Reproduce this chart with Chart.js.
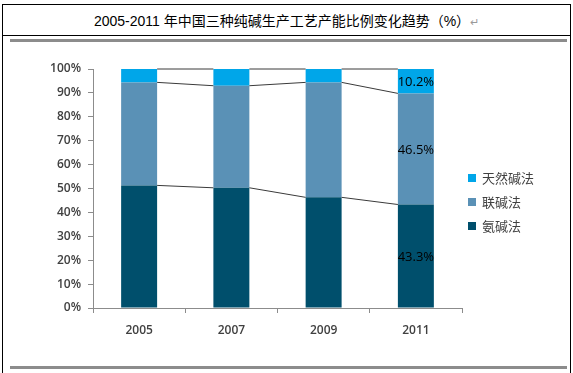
<!DOCTYPE html>
<html><head><meta charset="utf-8">
<script src="https://cdn.jsdelivr.net/npm/chart.js@4/dist/chart.umd.min.js"></script>
<style>
html,body{margin:0;padding:0;background:#fff;width:573px;height:373px;overflow:hidden;position:relative;}
.ln{position:absolute;background:#000;}
.gray{position:absolute;background:#8c8c8c;}
#title{position:absolute;left:0;width:573px;top:12px;text-align:center;font-size:14px;line-height:18px;color:#000;font-family:"Liberation Sans","Noto Sans CJK SC",sans-serif;white-space:nowrap;}
#title .ret{color:#999;font-size:11px;}
#chartWrap{position:absolute;left:0;top:42px;width:573px;height:323px;}
#legend{position:absolute;left:468px;top:168px;font-family:"Noto Sans CJK SC",sans-serif;font-size:13px;color:#404040;}
#legend .it{position:relative;height:24px;line-height:20px;padding-left:14px;white-space:nowrap;}
#legend .sw{position:absolute;left:0;top:6px;width:8px;height:8px;}
</style></head>
<body>
<div class="ln" style="left:2px;top:4px;width:569px;height:1px"></div>
<div class="ln" style="left:2px;top:35px;width:569px;height:1px"></div>
<div class="ln" style="left:2px;top:4px;width:1px;height:369px"></div>
<div class="ln" style="left:570px;top:4px;width:1px;height:369px"></div>
<div class="gray" style="left:10px;top:39px;width:557px;height:3px"></div>
<div class="gray" style="left:10px;top:366px;width:557px;height:3px"></div>
<div id="title">2005-2011 年中国三种纯碱生产工艺产能比例变化趋势（%）<span class="ret">↵</span></div>
<div id="chartWrap"><canvas id="c" width="573" height="323"></canvas></div>
<div id="legend"></div>
<script>
// ---- data ----
const years = ['2005', '2007', '2009', '2011'];
const ammonia = [51.3, 50.3, 46.3, 43.3];   // 氨碱法
const joint   = [43.1, 42.7, 48.1, 46.5];   // 联碱法
const natural = [5.6, 7.0, 5.6, 10.2];      // 天然碱法
const seriesNames = ['氨碱法', '联碱法', '天然碱法'];
const labeledYear = '2011';
const yTickStep = 10;
const yMax = 100;

const colors = ['#004f6c', '#5a91b6', '#00a6e9'];
const seriesData = [ammonia, joint, natural];

const datasets = seriesData.map((d, i) => ({
  label: seriesNames[i],
  data: d,
  backgroundColor: colors[i],
  borderWidth: 0,
  categoryPercentage: 1,
  barPercentage: 0.39,
  stack: 's'
}));

const seriesLines = {
  id: 'seriesLines',
  afterDatasetsDraw(chart) {
    const ctx = chart.ctx;
    ctx.save();
    ctx.strokeStyle = '#3a3a3a';
    ctx.lineWidth = 1;
    chart.data.datasets.forEach((ds, di) => {
      const bars = chart.getDatasetMeta(di).data;
      for (let i = 0; i < bars.length - 1; i++) {
        const a = bars[i], b = bars[i + 1];
        ctx.beginPath();
        ctx.moveTo(a.x + a.width / 2, a.y);
        ctx.lineTo(b.x - b.width / 2, b.y);
        ctx.stroke();
      }
    });
    // data labels for the last year
    const idx = years.indexOf(labeledYear);
    ctx.fillStyle = '#000';
    ctx.font = '13px "Open Sans", sans-serif';
    ctx.textAlign = 'center';
    ctx.textBaseline = 'middle';
    chart.data.datasets.forEach((ds, di) => {
      const el = chart.getDatasetMeta(di).data[idx];
      const mid = (el.y + el.base) / 2 + 1;
      ctx.fillText(ds.data[idx].toFixed(1) + '%', el.x, mid);
    });
    ctx.restore();
  }
};

const chart = new Chart(document.getElementById('c'), {
  type: 'bar',
  data: { labels: years, datasets },
  options: {
    responsive: false,
    animation: false,
    devicePixelRatio: 1,
    layout: { padding: { left: 0, top: 27, right: 111, bottom: 0 } },
    plugins: { legend: { display: false }, tooltip: { enabled: false } },
    scales: {
      x: {
        stacked: true,
        grid: { display: true, drawOnChartArea: false, drawTicks: true, tickLength: 5, color: '#8c8c8c', offset: true },
        border: { color: '#8c8c8c', width: 1 },
        ticks: { padding: 10, color: '#404040', font: { family: '"Open Sans", sans-serif', size: 12, weight: '600' } },
        afterFit(s) { s.height = 57; }
      },
      y: {
        stacked: true,
        min: 0, max: yMax,
        grid: { display: true, drawOnChartArea: false, drawTicks: true, tickLength: 5, color: '#8c8c8c' },
        border: { color: '#8c8c8c', width: 1 },
        ticks: { stepSize: yTickStep, padding: 7, color: '#404040',
          font: { family: '"Open Sans", sans-serif', size: 12, weight: '600' },
          callback: v => v + '%' },
        afterFit(s) { s.width = 93; }
      }
    }
  },
  plugins: [seriesLines]
});

// legend (reverse order like the reference)
const lg = document.getElementById('legend');
for (let i = datasets.length - 1; i >= 0; i--) {
  const it = document.createElement('div');
  it.className = 'it';
  const sw = document.createElement('span');
  sw.className = 'sw';
  sw.style.background = datasets[i].backgroundColor;
  it.appendChild(sw);
  it.appendChild(document.createTextNode(datasets[i].label));
  lg.appendChild(it);
}
</script>
</body></html>
